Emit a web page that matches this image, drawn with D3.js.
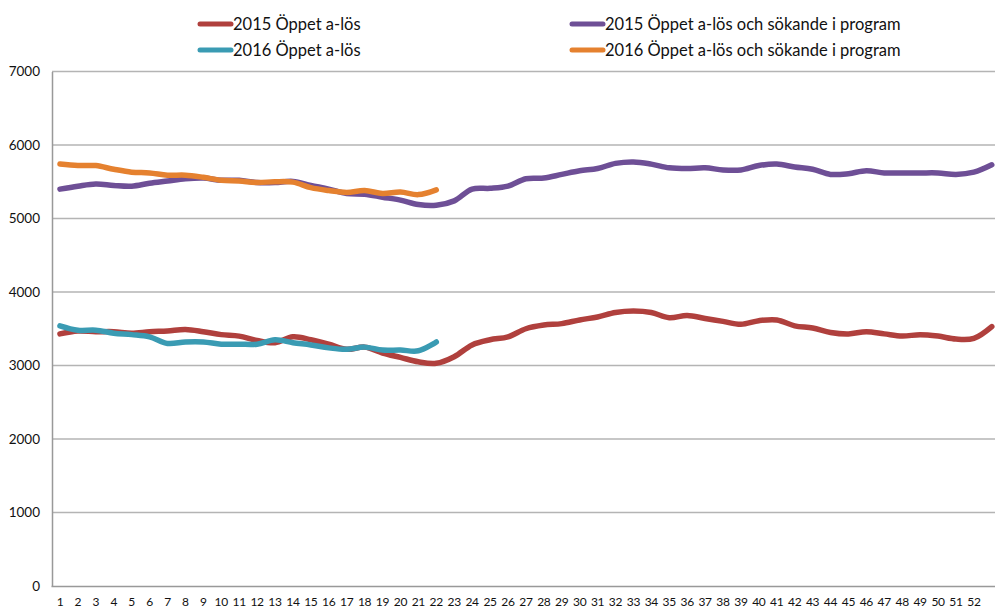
<!DOCTYPE html>
<html>
<head>
<meta charset="utf-8">
<script src="https://cdn.jsdelivr.net/npm/d3@7"></script>
<style>
  body { margin: 0; background: #fff; }
  svg { display: block; font-family: Lato, "Open Sans", sans-serif; }
</style>
</head>
<body>
<svg id="chart" width="995" height="610"></svg>
<script>
// weeks (2015 had 53 weeks, last one runs off the right edge)
let weeks = d3.range(1, 54);
let weekLabels = d3.range(1, 53).map(String);
let yTicks = [0, 1000, 2000, 3000, 4000, 5000, 6000, 7000];

let seriesNames = [
  "2015 Öppet a-lös",
  "2016 Öppet a-lös",
  "2015 Öppet a-lös och sökande i program",
  "2016 Öppet a-lös och sökande i program"
];
let seriesColors = ["#b0403d", "#3a9bb3", "#6e4f96", "#e5812f"];

let open2015 = [3430, 3470, 3460, 3460, 3440, 3460, 3470, 3490, 3460, 3420,
  3400, 3340, 3310, 3390, 3350, 3290, 3220, 3250, 3170, 3110,
  3050, 3030, 3120, 3280, 3350, 3390, 3500, 3550, 3570, 3620,
  3660, 3720, 3740, 3720, 3650, 3680, 3640, 3600, 3560, 3610,
  3620, 3540, 3510, 3450, 3430, 3460, 3430, 3400, 3420, 3400,
  3360, 3370, 3530];
let open2016 = [3540, 3480, 3480, 3440, 3420, 3390, 3300, 3320, 3320, 3290,
  3290, 3290, 3350, 3310, 3280, 3240, 3220, 3250, 3210, 3210,
  3200, 3320];
let prog2015 = [5400, 5440, 5470, 5450, 5440, 5480, 5510, 5540, 5550, 5520,
  5520, 5490, 5490, 5505, 5450, 5400, 5340, 5330, 5290, 5250,
  5190, 5180, 5240, 5400, 5410, 5440, 5540, 5550, 5600, 5650,
  5680, 5750, 5770, 5740, 5690, 5680, 5690, 5660, 5660, 5720,
  5740, 5700, 5670, 5600, 5610, 5650, 5620, 5620, 5620, 5620,
  5600, 5630, 5730];
let prog2016 = [5740, 5720, 5720, 5670, 5630, 5620, 5590, 5590, 5560, 5520,
  5510, 5490, 5500, 5495, 5420, 5380, 5355, 5380, 5340, 5360,
  5325, 5390];

let seriesValues = [open2015, open2016, prog2015, prog2016];

let svg = d3.select('#chart');

let x = d3.scaleBand().domain(weeks).range([51, 51 + 53 * 17.92]);
let y = d3.scaleLinear().domain([0, 7000]).range([586, 71.5]);
let cx = w => x(w) + x.bandwidth() / 2;

// gridlines
svg.append('g')
  .selectAll('line')
  .data(yTicks.filter(t => t > 0))
  .enter()
  .append('line')
  .attr('x1', 52).attr('x2', 1001)
  .attr('y1', d => y(d)).attr('y2', d => y(d))
  .attr('stroke', '#b4b4b4')
  .attr('stroke-width', 1.5);

// y axis
let yAxis = svg.append('g')
  .attr('transform', 'translate(52,0)')
  .call(d3.axisLeft(y).tickValues(yTicks).tickSize(0).tickPadding(12).tickFormat(d3.format('d')));
yAxis.select('.domain').attr('stroke', '#999').attr('stroke-width', 1.5);
yAxis.selectAll('text').attr('font-size', 13.5).attr('fill', '#111')
  .attr('font-family', 'Lato, sans-serif');

// x axis
let xAxis = svg.append('g')
  .attr('transform', 'translate(0,586)')
  .call(d3.axisBottom(x).tickValues(weekLabels.map(Number)).tickSize(0).tickPadding(11));
xAxis.select('.domain').attr('stroke', '#999').attr('stroke-width', 1.5);
xAxis.selectAll('text').attr('font-size', 12).attr('fill', '#111')
  .attr('font-family', 'Lato, sans-serif').attr('letter-spacing', -0.3);

// lines
let line = d3.line()
  .x((d, i) => cx(weeks[i]))
  .y(d => y(d))
  .curve(d3.curveCatmullRom.alpha(0.5));

svg.append('g')
  .selectAll('path')
  .data(seriesValues)
  .enter()
  .append('path')
  .attr('d', d => line(d))
  .attr('fill', 'none')
  .attr('stroke', (d, i) => seriesColors[i])
  .attr('stroke-width', 5.5)
  .attr('stroke-linejoin', 'round')
  .attr('stroke-linecap', 'round');

// legend
let legendPos = [[200, 24], [200, 50], [572, 24], [572, 50]];
let legend = svg.append('g')
  .selectAll('g')
  .data(seriesNames)
  .enter()
  .append('g')
  .attr('transform', (d, i) => 'translate(' + legendPos[i][0] + ',' + legendPos[i][1] + ')');

legend.append('line')
  .attr('x1', 0).attr('x2', 31)
  .attr('y1', 0).attr('y2', 0)
  .attr('stroke', (d, i) => seriesColors[i])
  .attr('stroke-width', 5)
  .attr('stroke-linecap', 'round');

legend.append('text')
  .attr('x', 33)
  .attr('y', 6)
  .attr('font-size', 16.5)
  .attr('fill', '#111')
  .text(d => d);
</script>
</body>
</html>
